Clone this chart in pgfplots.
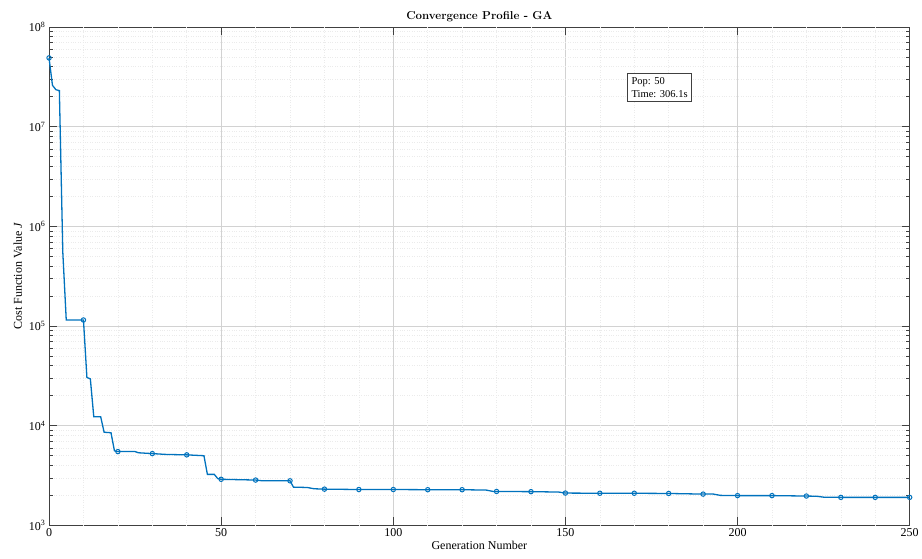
\documentclass[border=0pt]{standalone}
\usepackage{pgfplots}
\pgfplotsset{compat=1.18}
\usepackage{fontspec}
\newfontfamily\timesfont{Liberation Serif}
\definecolor{mblue}{rgb}{0,0.447,0.741}
\definecolor{axgray}{rgb}{0.25,0.25,0.25}
\pgfplotstableread{
x y
0 4.9e7
1 2.6e7
2 2.35e7
3 2.3e7
4 5.5e5
5 1.15e5
10 1.15e5
11 3.05e4
12 2.95e4
13 1.23e4
15 1.23e4
16 8.6e3
18 8.5e3
19 5.6e3
20 5.5e3
25 5.5e3
26 5.35e3
30 5.25e3
34 5.15e3
40 5.1e3
45 5.0e3
46 3.25e3
48 3.25e3
49 2.95e3
50 2.9e3
60 2.85e3
62 2.8e3
70 2.8e3
71 2.42e3
75 2.4e3
77 2.33e3
80 2.31e3
90 2.29e3
100 2.29e3
110 2.28e3
120 2.28e3
127 2.26e3
129 2.19e3
140 2.18e3
148 2.16e3
150 2.11e3
160 2.10e3
170 2.10e3
180 2.09e3
190 2.06e3
193 2.06e3
195 2.00e3
200 1.99e3
210 1.99e3
220 1.97e3
223 1.96e3
225 1.92e3
230 1.91e3
240 1.91e3
250 1.91e3
}\conv
\pgfplotstableread{
x y
0 4.9e7
10 1.15e5
20 5.5e3
30 5.25e3
40 5.1e3
50 2.9e3
60 2.85e3
70 2.8e3
80 2.31e3
90 2.29e3
100 2.29e3
110 2.28e3
120 2.28e3
130 2.19e3
140 2.18e3
150 2.11e3
160 2.10e3
170 2.10e3
180 2.09e3
190 2.06e3
200 1.99e3
210 1.99e3
220 1.97e3
230 1.91e3
240 1.91e3
250 1.91e3
}\convmarks
\begin{document}
\begin{tikzpicture}
\begin{axis}[
  name=ax,
  scale only axis, width=860pt, height=498pt,
  ymode=log, xmin=0, xmax=250, ymin=1e3, ymax=1e8,
  xtick={0,50,100,150,200,250},
  ytick={1e3,1e4,1e5,1e6,1e7,1e8},
  yticklabels={10\textsuperscript{3},10\textsuperscript{4},10\textsuperscript{5},10\textsuperscript{6},10\textsuperscript{7},10\textsuperscript{8}},
  minor ytick={2e3,3e3,4e3,5e3,6e3,7e3,8e3,9e3,2e4,3e4,4e4,5e4,6e4,7e4,8e4,9e4,2e5,3e5,4e5,5e5,6e5,7e5,8e5,9e5,2e6,3e6,4e6,5e6,6e6,7e6,8e6,9e6,2e7,3e7,4e7,5e7,6e7,7e7,8e7,9e7},
  extra x ticks={10,20,30,40,60,70,80,90,110,120,130,140,160,170,180,190,210,220,230,240},
  extra x tick labels={},
  extra x tick style={major tick length=0pt, major grid style={gray!16, dotted, line width=0.5pt}},
  grid=both,
  major grid style={gray!35, line width=0.5pt},
  minor grid style={gray!16, dotted, line width=0.5pt},
  tick align=inside,
  major tick length=8pt,
  minor tick length=4pt,
  axis line style={axgray, line width=0.6pt},
  every tick/.style={axgray, line width=0.5pt},
  /pgf/number format/assume math mode=true,
  ticklabel style={font=\timesfont\fontsize{12}{14}\selectfont},
  label style={font=\timesfont\fontsize{12}{14}\selectfont},
  xlabel={Generation Number},
  ylabel={Cost Function Value {\itshape J}},
  xlabel style={yshift=3pt},
  title={Convergence Profile - GA},
  title style={font=\normalfont\bfseries\fontsize{11.5}{13}\selectfont, yshift=-4pt},
  clip=false,
]
\addplot[mblue, line width=1.3pt] table[x=x,y=y] {\conv};
\addplot[only marks, mark=o, mark size=2.2pt, mark options={draw=mblue, fill=white, line width=1pt}] table[x=x,y=y] {\convmarks};
\node[draw=axgray, fill=white, align=left, anchor=north west, font=\timesfont\fontsize{10.5}{13}\selectfont, inner sep=4pt, line width=0.5pt] at (rel axis cs:0.672,0.908) {Pop: 50\\Time: 306.1s};
\end{axis}
\path (ax.south west) +(-49pt,-33pt) (ax.north east) +(12pt,27pt);
\end{tikzpicture}
\end{document}
